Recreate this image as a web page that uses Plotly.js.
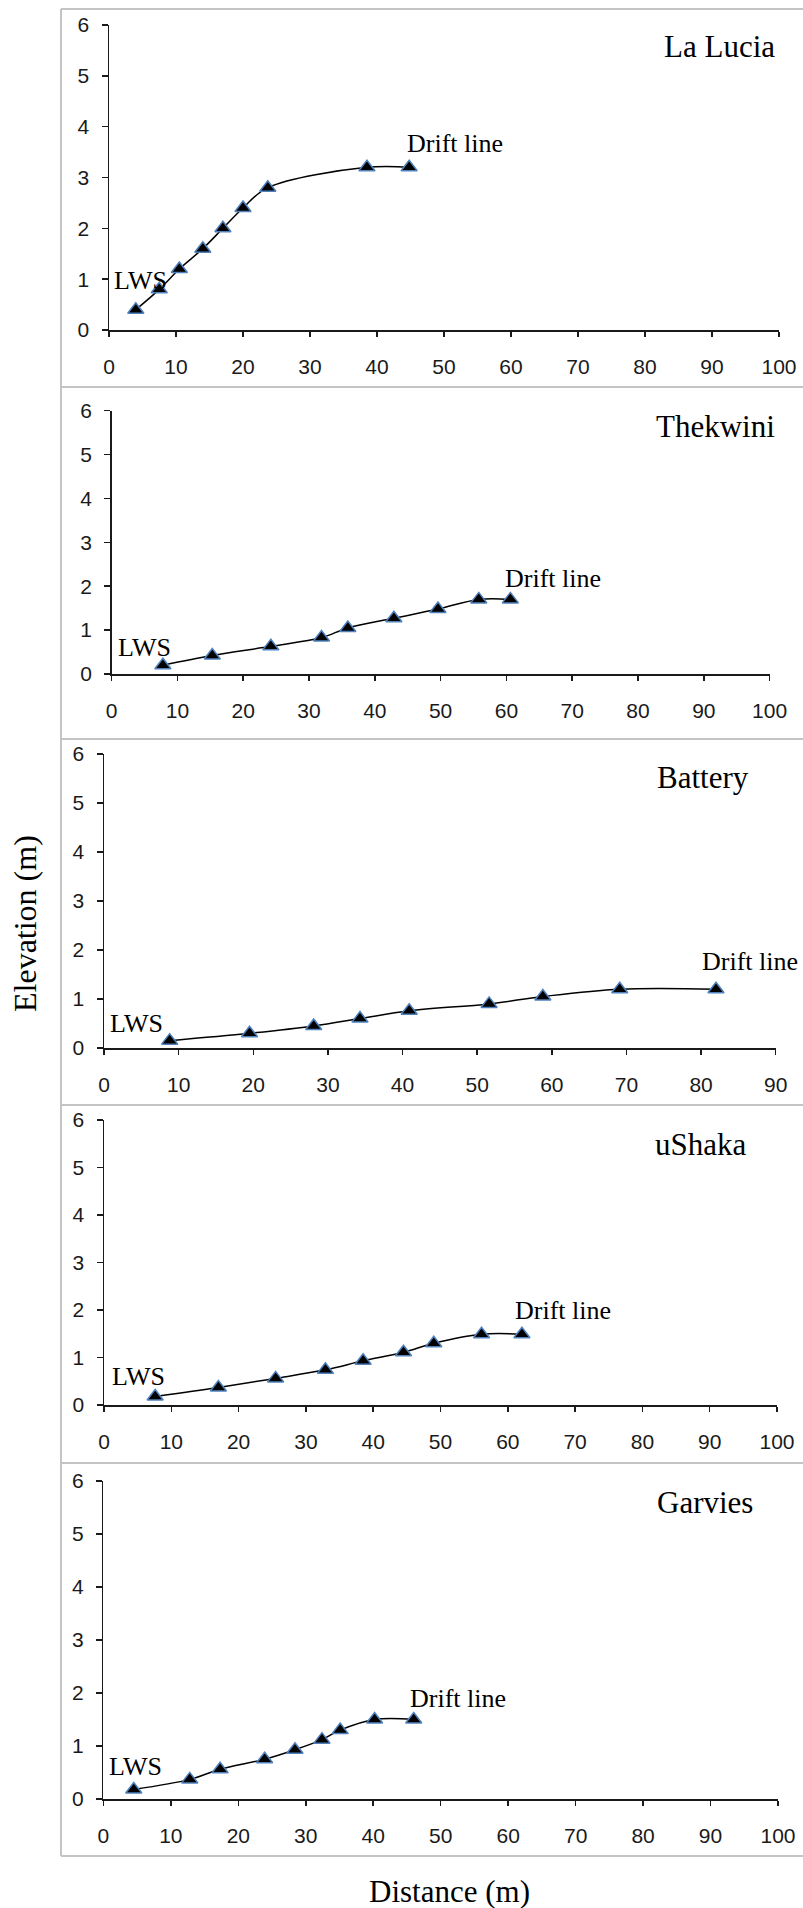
<!DOCTYPE html>
<html><head><meta charset="utf-8">
<script src="https://cdn.plot.ly/plotly-3.0.1.min.js"></script>
<style>html,body{margin:0;padding:0;background:#fff}</style>
</head><body><div id="chart" style="width:803px;height:1908px"></div>
<script>
// ---- data ----
const sites = ["La Lucia", "Thekwini", "Battery", "uShaka", "Garvies"];
const laLuciaDist = [4, 7.5, 10.5, 14, 17, 20, 23.7, 38.5, 44.8];
const laLuciaElev = [0.4, 0.8, 1.2, 1.6, 2.0, 2.4, 2.8, 3.2, 3.2];
const thekwiniDist = [7.8, 15.3, 24.2, 31.9, 35.9, 42.9, 49.6, 55.8, 60.6];
const thekwiniElev = [0.2, 0.42, 0.63, 0.83, 1.05, 1.27, 1.48, 1.7, 1.7];
const batteryDist = [8.8, 19.5, 28.1, 34.3, 40.9, 51.6, 58.8, 69.1, 82.0];
const batteryElev = [0.15, 0.3, 0.45, 0.6, 0.76, 0.9, 1.05, 1.2, 1.2];
const ushakaDist = [7.6, 17.0, 25.5, 32.9, 38.5, 44.5, 49.0, 56.1, 62.1];
const ushakaElev = [0.18, 0.37, 0.56, 0.74, 0.93, 1.11, 1.3, 1.49, 1.49];
const garviesDist = [4.5, 12.8, 17.3, 23.9, 28.4, 32.4, 35.1, 40.2, 46.0];
const garviesElev = [0.18, 0.37, 0.56, 0.75, 0.93, 1.12, 1.3, 1.5, 1.5];
const xMax = [100, 100, 90, 100, 100];
const yMax = 6;
const startLabel = "LWS";
const endLabel = "Drift line";
const xTitle = "Distance (m)";
const yTitle = "Elevation (m)";

// ---- layout helpers (pixel -> paper) ----
const W = 803, H = 1908;
const px = v => v / W;
const py = v => 1 - v / H;

const dists = [laLuciaDist, thekwiniDist, batteryDist, ushakaDist, garviesDist];
const elevs = [laLuciaElev, thekwiniElev, batteryElev, ushakaElev, garviesElev];

// plot areas: [left, right, top(y=6), bottom(y=0)] in px
const areas = [
  [109, 779, 25, 330],
  [111.6, 769.6, 410.7, 674],
  [104, 775.7, 754, 1048],
  [104, 777, 1120, 1405],
  [103.4, 778, 1481, 1799]
];
// label placements in px
const siteLbl = [[777, 46], [777, 426.5], [751, 777.5], [748.6, 1144.5], [755, 1502.5]];
const lwsLbl = [[112, 280.5], [116, 648], [108, 1023], [109.5, 1376], [107, 1766]];
const driftLbl = [[404.5, 143], [503, 578], [699.5, 961], [513, 1310], [407.5, 1698]];
const boxLines = [9, 387, 739, 1105, 1463, 1856];

const serif = "Liberation Serif, Times New Roman, serif";
const sans = "Liberation Sans, Arial, sans-serif";
const ink = "#1a1a1a";

const traces = [];
const layout = {
  width: W, height: H,
  margin: {l: 0, r: 0, t: 0, b: 0},
  paper_bgcolor: "#fff", plot_bgcolor: "rgba(0,0,0,0)",
  showlegend: false,
  annotations: [], shapes: []
};

for (let i = 0; i < 5; i++) {
  const n = i === 0 ? "" : String(i + 1);
  const [l, r, t, b] = areas[i];
  traces.push({
    type: "scatter", mode: "lines+markers",
    x: dists[i], y: elevs[i],
    xaxis: "x" + n, yaxis: "y" + n,
    line: {color: "#000", width: 1.5, shape: "spline", smoothing: 1},
    marker: {symbol: "triangle-up", size: 14, color: "#000",
             line: {color: "#4f81bd", width: 1.5}},
    cliponaxis: false, hoverinfo: "skip"
  });
  layout["xaxis" + n] = {
    domain: [px(l), px(r)], anchor: "y" + n,
    range: [0, xMax[i]], tickmode: "linear", tick0: 0, dtick: 10,
    showgrid: false, zeroline: false, showline: true,
    linecolor: ink, linewidth: 1.5,
    ticks: "outside", ticklen: 5, tickwidth: 1.5, tickcolor: ink,
    tickfont: {family: sans, size: 21, color: ink},
    ticklabelstandoff: 12, fixedrange: true
  };
  layout["yaxis" + n] = {
    domain: [py(b), py(t)], anchor: "x" + n,
    range: [0, yMax], tickmode: "linear", tick0: 0, dtick: 1,
    showgrid: false, zeroline: false, showline: true,
    linecolor: ink, linewidth: 1.5,
    ticks: "outside", ticklen: 6, tickwidth: 1.5, tickcolor: ink,
    tickfont: {family: sans, size: 21, color: ink},
    ticklabelstandoff: 8, fixedrange: true
  };
  layout.annotations.push({
    xref: "paper", yref: "paper", x: px(siteLbl[i][0]), y: py(siteLbl[i][1]),
    xanchor: "right", yanchor: "middle", showarrow: false,
    text: sites[i], font: {family: serif, size: 31, color: "#000"}
  });
  layout.annotations.push({
    xref: "paper", yref: "paper", x: px(lwsLbl[i][0]), y: py(lwsLbl[i][1]),
    xanchor: "left", yanchor: "middle", showarrow: false,
    text: startLabel, font: {family: serif, size: 26, color: "#000"}
  });
  layout.annotations.push({
    xref: "paper", yref: "paper", x: px(driftLbl[i][0]), y: py(driftLbl[i][1]),
    xanchor: "left", yanchor: "middle", showarrow: false,
    text: endLabel, font: {family: serif, size: 26, color: "#000"}
  });
}

// panel frames (light gray)
boxLines.forEach(v => layout.shapes.push({
  type: "line", xref: "paper", yref: "paper",
  x0: px(61), x1: 1, y0: py(v), y1: py(v),
  line: {color: "#c4c4c4", width: 2}
}));
layout.shapes.push({
  type: "line", xref: "paper", yref: "paper",
  x0: px(61), x1: px(61), y0: py(boxLines[0]), y1: py(boxLines[boxLines.length - 1]),
  line: {color: "#c4c4c4", width: 2}
});

// axis titles
layout.annotations.push({
  xref: "paper", yref: "paper", x: px(25), y: py(924),
  xanchor: "center", yanchor: "middle", showarrow: false, textangle: -90,
  text: yTitle, font: {family: serif, size: 32, color: "#000"}
});
layout.annotations.push({
  xref: "paper", yref: "paper", x: px(449), y: py(1891),
  xanchor: "center", yanchor: "middle", showarrow: false,
  text: xTitle, font: {family: serif, size: 31, color: "#000"}
});

Plotly.newPlot("chart", traces, layout, {displayModeBar: false, staticPlot: true});
</script>
</body></html>
